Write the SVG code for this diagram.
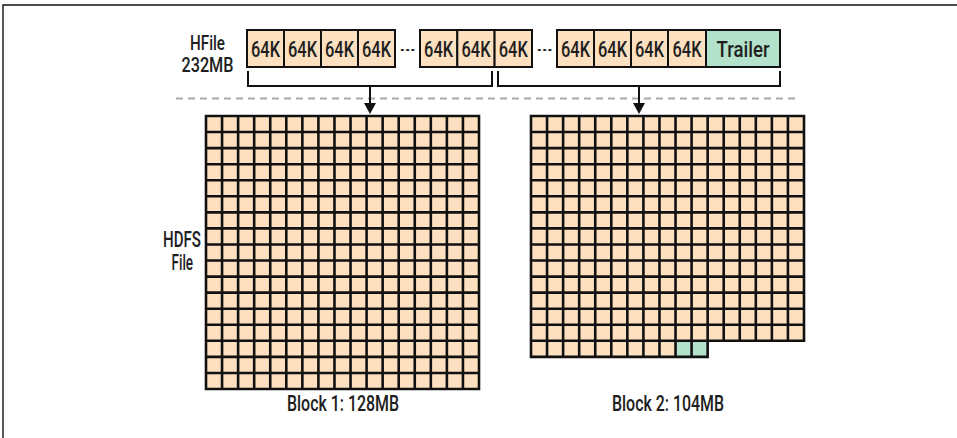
<svg xmlns="http://www.w3.org/2000/svg" width="957" height="438" viewBox="0 0 957 438">
<style>
.t{font-family:Roboto,"Liberation Sans",sans-serif;font-weight:500;fill:#1e1e1e;font-size:22px;text-anchor:middle}
.s{font-size:19.5px}
.e{font-size:14px}
.box{fill:#fde0bf;stroke:#111;stroke-width:2}
.trl{fill:#b4e1cb;stroke:#111;stroke-width:2}
.grid{fill:none;stroke:#111;stroke-width:2.6;stroke-linecap:square}
.cell{fill:#fde0bf}
.green{fill:#b4e1cb}
.con{fill:none;stroke:#111;stroke-width:2}
.dash{fill:none;stroke:#aaa;stroke-width:2;stroke-dasharray:7 5}
</style>
<path d="M3 438V5H957" fill="none" stroke="#111" stroke-width="1.4"/>
<path class="dash" d="M176 98.5H800"/>
<g id="hfile-label">
<text class="t s" x="207.5" y="49.5" textLength="35" lengthAdjust="spacingAndGlyphs">HFile</text>
<text class="t s" x="207.5" y="71.5" textLength="52" lengthAdjust="spacingAndGlyphs">232MB</text>
</g>
<g id="hfile">
<rect class="box" x="247" y="30" width="37" height="37"/>
<rect class="box" x="284" y="30" width="37" height="37"/>
<rect class="box" x="321" y="30" width="37" height="37"/>
<rect class="box" x="358" y="30" width="37" height="37"/>
<rect class="box" x="420" y="30" width="37.3" height="37"/>
<rect class="box" x="457.3" y="30" width="37.3" height="37"/>
<rect class="box" x="494.6" y="30" width="37.4" height="37"/>
<rect class="box" x="557" y="30" width="37" height="37"/>
<rect class="box" x="594" y="30" width="37" height="37"/>
<rect class="box" x="631" y="30" width="37" height="37"/>
<rect class="box" x="668" y="30" width="38" height="37"/>
<rect class="trl" x="706" y="30" width="74" height="37"/>
<text class="t" x="265.5" y="56.5" textLength="29" lengthAdjust="spacingAndGlyphs">64K</text>
<text class="t" x="302.5" y="56.5" textLength="29" lengthAdjust="spacingAndGlyphs">64K</text>
<text class="t" x="339.5" y="56.5" textLength="29" lengthAdjust="spacingAndGlyphs">64K</text>
<text class="t" x="376.5" y="56.5" textLength="29" lengthAdjust="spacingAndGlyphs">64K</text>
<text class="t" x="438.6" y="56.5" textLength="29" lengthAdjust="spacingAndGlyphs">64K</text>
<text class="t" x="476" y="56.5" textLength="29" lengthAdjust="spacingAndGlyphs">64K</text>
<text class="t" x="513.3" y="56.5" textLength="29" lengthAdjust="spacingAndGlyphs">64K</text>
<text class="t" x="575.5" y="56.5" textLength="29" lengthAdjust="spacingAndGlyphs">64K</text>
<text class="t" x="612.5" y="56.5" textLength="29" lengthAdjust="spacingAndGlyphs">64K</text>
<text class="t" x="649.5" y="56.5" textLength="29" lengthAdjust="spacingAndGlyphs">64K</text>
<text class="t" x="687" y="56.5" textLength="29" lengthAdjust="spacingAndGlyphs">64K</text>
<text class="t" x="743" y="56.5" textLength="53" lengthAdjust="spacingAndGlyphs">Trailer</text>
<text class="t e" x="407.5" y="50.5" textLength="17" lengthAdjust="spacingAndGlyphs">…</text>
<text class="t e" x="544.5" y="50.5" textLength="17" lengthAdjust="spacingAndGlyphs">…</text>
</g>
<g id="connectors">
<path class="con" d="M248 71V86H492V71"/>
<path class="con" d="M498 71V86H780V71"/>
<path class="con" d="M370 86V104"/>
<path d="M364 103H376L370 114Z" fill="#111"/>
<path class="con" d="M639 86V104"/>
<path d="M633 103H645L639 114Z" fill="#111"/>
</g>
<g id="hdfs-label">
<text class="t" x="182" y="246.5" textLength="38" lengthAdjust="spacingAndGlyphs">HDFS</text>
<text class="t" x="182.3" y="270" textLength="21.5" lengthAdjust="spacingAndGlyphs">File</text>
</g>
<g id="block1">
<rect class="cell" x="206" y="116" width="273" height="273"/>
<path class="grid" d="M206 116V389M222.06 116V389M238.12 116V389M254.18 116V389M270.24 116V389M286.29 116V389M302.35 116V389M318.41 116V389M334.47 116V389M350.53 116V389M366.59 116V389M382.65 116V389M398.71 116V389M414.76 116V389M430.82 116V389M446.88 116V389M462.94 116V389M479 116V389M206 116H479M206 132.06H479M206 148.12H479M206 164.18H479M206 180.24H479M206 196.29H479M206 212.35H479M206 228.41H479M206 244.47H479M206 260.53H479M206 276.59H479M206 292.65H479M206 308.71H479M206 324.76H479M206 340.82H479M206 356.88H479M206 372.94H479M206 389H479"/>
<text class="t" x="343" y="411" textLength="112" lengthAdjust="spacingAndGlyphs">Block 1: 128MB</text>
</g>
<g id="block2">
<path class="cell" d="M531 116H804V340.82H707.65V356.88H531Z"/>
<rect class="green" x="675.53" y="340.82" width="32.12" height="16.06"/>
<path class="grid" d="M531 116V356.88M547.06 116V356.88M563.12 116V356.88M579.18 116V356.88M595.24 116V356.88M611.29 116V356.88M627.35 116V356.88M643.41 116V356.88M659.47 116V356.88M675.53 116V356.88M691.59 116V356.88M707.65 116V356.88M723.71 116V340.82M739.76 116V340.82M755.82 116V340.82M771.88 116V340.82M787.94 116V340.82M804 116V340.82M531 116H804M531 132.06H804M531 148.12H804M531 164.18H804M531 180.24H804M531 196.29H804M531 212.35H804M531 228.41H804M531 244.47H804M531 260.53H804M531 276.59H804M531 292.65H804M531 308.71H804M531 324.76H804M531 340.82H804M531 356.88H707.65"/>
<text class="t" x="668" y="411" textLength="112" lengthAdjust="spacingAndGlyphs">Block 2: 104MB</text>
</g>
</svg>
